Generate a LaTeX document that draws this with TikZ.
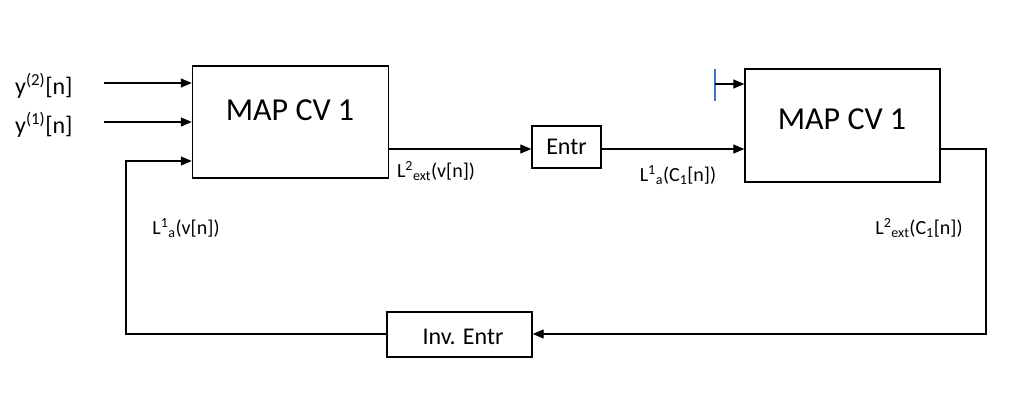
\documentclass[tikz,border=0pt]{standalone}
\usepackage{fontspec}
\setmainfont{Carlito}
\usetikzlibrary{arrows.meta}
\definecolor{tickblue}{RGB}{68,114,196}
\begin{document}
\begin{tikzpicture}[x=1pt,y=-1pt,
  blk/.style={draw,line width=1.4pt,inner sep=0pt},
  conn/.style={line width=1.3pt},
  arr/.style={conn,-{Triangle[length=11pt,width=9pt]}},
  lbl/.style={font=\fontsize{20}{20}\selectfont,inner sep=0pt},
  inlbl/.style={font=\fontsize{24}{24}\selectfont,inner sep=0pt}]
\useasboundingbox[fill=white] (0,0) rectangle (1024,402);
% blocks
\node[blk,minimum width=196pt,minimum height=112pt] (map1) at (290.5,122) {};
\node[font=\fontsize{32}{32}\selectfont,inner sep=0pt] (map1t) at (290,110) {MAP CV 1};
\node[blk,minimum width=195pt,minimum height=113pt] (map2) at (842.5,125.5) {};
\node[font=\fontsize{32}{32}\selectfont,inner sep=0pt] (map2t) at (842,119) {MAP CV 1};
\node[blk,minimum width=69pt,minimum height=42pt,font=\fontsize{24}{24}\selectfont] (entr) at (566.5,147) {Entr};
\node[blk,minimum width=145pt,minimum height=45pt] (inv) at (459.5,334.5) {};
\node[inlbl] (invt) at (463,337) {Inv. Entr};
% inputs
\node[inlbl,anchor=west] (y2) at (15,86) {y\textsuperscript{(2)}[n]};
\node[inlbl,anchor=west] (y1) at (15,125) {y\textsuperscript{(1)}[n]};
\coordinate (y2s) at (104,83);
\coordinate (y1s) at (104,122);
\draw[arr] (y2s) -- (map1.west |- y2s);
\draw[arr] (y1s) -- (map1.west |- y1s);
% forward path
\coordinate (o1) at (389,149);
\draw[arr] (map1.east |- o1) -- (entr.west |- o1);
\draw[arr] (entr.east |- o1) -- (map2.west |- o1);
% blue tick input
\coordinate (tk) at (715,84);
\draw[tickblue,line width=1.3pt] (715,69) -- (715,101);
\draw[arr] (tk) -- (map2.west |- tk);
% feedback
\coordinate (r1) at (986,149);
\coordinate (r2) at (986,334);
\draw[arr] (map2.east |- r1) -- (r1) -- (r2) -- (inv.east |- r2);
\coordinate (l1) at (126,334);
\coordinate (l2) at (126,161);
\draw[arr] (inv.west |- l1) -- (l1) -- (l2) -- (map1.west |- l2);
% labels
\node[lbl] (la) at (436,171) {L\textsuperscript{2}\textsubscript{ext}(v[n])};
\node[lbl] (lb) at (678,175) {L\textsuperscript{1}\textsubscript{a}(C\textsubscript{1}[n])};
\node[lbl] (lc) at (186,228) {L\textsuperscript{1}\textsubscript{a}(v[n])};
\node[lbl] (ld) at (919,228) {L\textsuperscript{2}\textsubscript{ext}(C\textsubscript{1}[n])};
\end{tikzpicture}
\end{document}
